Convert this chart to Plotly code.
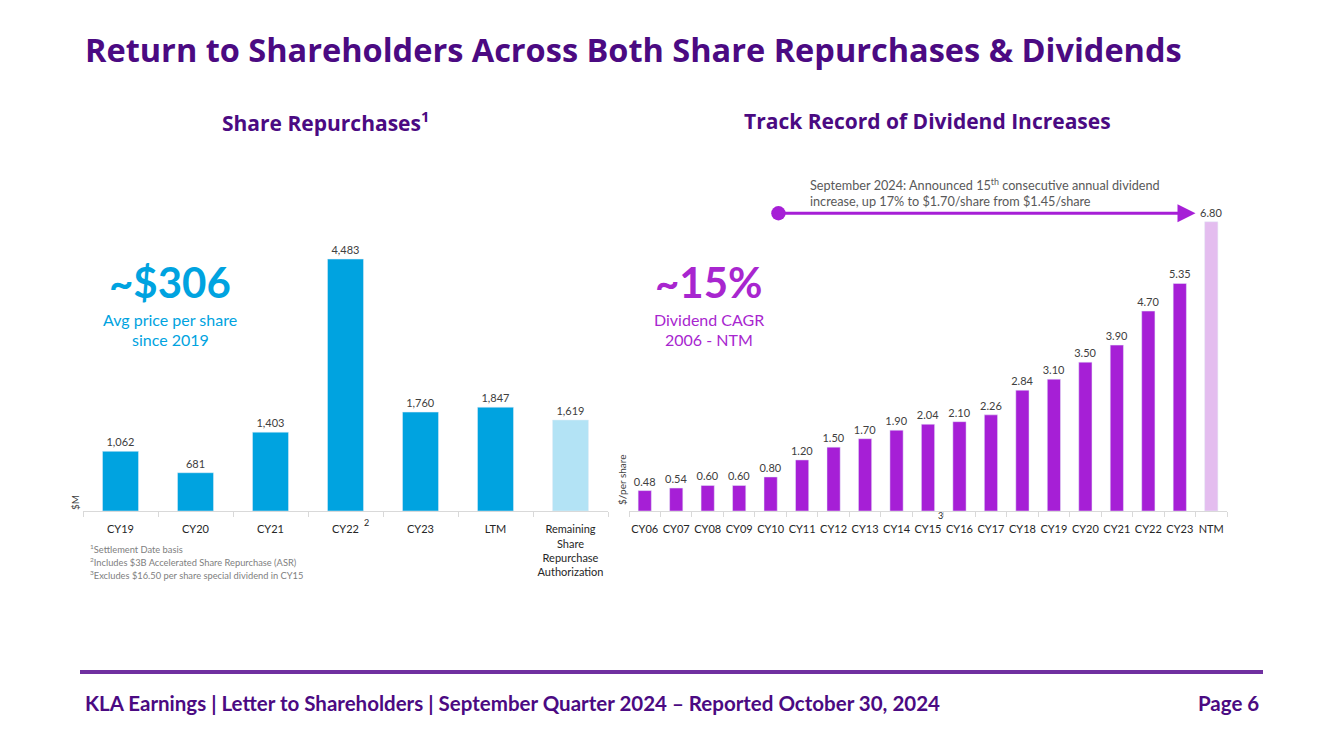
import plotly.graph_objects as go

# Data
rep_cats = ["CY19", "CY20", "CY21", "CY22", "CY23", "LTM", "Remaining<br>Share<br>Repurchase<br>Authorization"]
rep_vals = [1062, 681, 1403, 4483, 1760, 1847, 1619]
div_cats = ["CY06", "CY07", "CY08", "CY09", "CY10", "CY11", "CY12", "CY13", "CY14", "CY15",
            "CY16", "CY17", "CY18", "CY19", "CY20", "CY21", "CY22", "CY23", "NTM"]
div_vals = [0.48, 0.54, 0.60, 0.60, 0.80, 1.20, 1.50, 1.70, 1.90, 2.04,
            2.10, 2.26, 2.84, 3.10, 3.50, 3.90, 4.70, 5.35, 6.80]

OFF = 8  # browser body margin
W, H = 1337 - OFF, 741 - OFF
def px(x): return (x - OFF) / W
def py(y): return 1 - (y - OFF) / H

BLUE = "#00A3E0"
BLUE_L = "#B3E3F5"
PURP = "#A61FD6"
PURP_L = "#E4BDEF"
DARK = "#4B0A82"
FONT = "Lato"

rep_colors = [BLUE] * (len(rep_vals) - 1) + [BLUE_L]
div_colors = [PURP] * (len(div_vals) - 1) + [PURP_L]

fig = go.Figure()
fig.add_trace(go.Bar(x=rep_cats, y=rep_vals, marker_color=rep_colors, xaxis="x", yaxis="y",
                     texttemplate="%{y:,}", textposition="outside", constraintext="none",
                     textfont=dict(size=11, color="#404040", family=FONT), cliponaxis=False,
                     width=0.48, showlegend=False))
fig.add_trace(go.Bar(x=div_cats, y=div_vals, marker_color=div_colors, xaxis="x2", yaxis="y2",
                     texttemplate="%{y:.2f}", textposition="outside", constraintext="none",
                     textfont=dict(size=11, color="#404040", family=FONT), cliponaxis=False,
                     width=0.42, showlegend=False))

axis_common = dict(showgrid=False, zeroline=False, showline=True, linecolor="#D9D9D9", linewidth=1,
                   ticks="outside", tickson="boundaries", ticklen=5, tickcolor="#D9D9D9",
                   tickfont=dict(size=11, color="#262626", family=FONT), fixedrange=True,
                   tickangle=0, type="category", ticklabelstandoff=8)

fig.update_layout(
    width=W, height=H, margin=dict(l=0, r=0, t=0, b=0),
    paper_bgcolor="white", plot_bgcolor="white",
    font=dict(family=FONT),
    xaxis=dict(domain=[px(83), px(608)], anchor="y", **axis_common),
    yaxis=dict(domain=[py(511), py(230)], range=[0, 5000], visible=False, fixedrange=True),
    xaxis2=dict(domain=[px(629), px(1227)], anchor="y2", **axis_common),
    yaxis2=dict(domain=[py(511), py(192)], range=[0, 7.5], visible=False, fixedrange=True),
)

ann = []
def T(x, y, text, size, color, bold=False, xanchor="center", family=FONT, **kw):
    if bold:
        text = "<b>" + text + "</b>"
    ann.append(dict(x=px(x), y=py(y), xref="paper", yref="paper", text=text, showarrow=False,
                    xanchor=xanchor, yanchor="middle", font=dict(size=size, color=color, family=family), **kw))

T(83, 50, "Return to Shareholders Across Both Share Repurchases & Dividends", 32.5, DARK, True, "left", family="Open Sans")
T(325, 121, "Share Repurchases<sup>1</sup>", 21, DARK, True, family="Open Sans")
T(927, 121, "Track Record of Dividend Increases", 21, DARK, True, family="Open Sans")

T(170, 282, "~$306", 42, BLUE, True)
T(170, 319, "Avg price per share", 16, BLUE)
T(170, 340, "since 2019", 16, BLUE)

T(709, 282, "~15%", 42, "#A826CF", True)
T(709, 319, "Dividend CAGR", 16, "#A826CF")
T(709, 340, "2006 - NTM", 16, "#A826CF")

T(75, 503, "$M", 10, "#404040", textangle=-90)
T(622, 480, "$/per share", 10, "#404040", textangle=-90)
T(366, 522, "2", 9, "#262626")
T(940, 515, "3", 9, "#262626")

T(88, 549, "<sup>1</sup>Settlement Date basis", 9.3, "#808080", xanchor="left")
T(88, 562, "<sup>2</sup>Includes $3B Accelerated Share Repurchase (ASR)", 9.3, "#808080", xanchor="left")
T(88, 575, "<sup>3</sup>Excludes $16.50 per share special dividend in CY15", 9.3, "#808080", xanchor="left")

T(808, 184, "September 2024: Announced 15<sup>th</sup> consecutive annual dividend", 12.7, "#595959", xanchor="left")
T(808, 201, "increase, up 17% to $1.70/share from $1.45/share", 12.7, "#595959", xanchor="left")

T(83, 703, "KLA Earnings | Letter to Shareholders | September Quarter 2024 – Reported October 30, 2024", 20.5, DARK, True, "left")
T(1261, 703, "Page 6", 20.5, DARK, True, "right")

# arrow with circular tail
ann.append(dict(x=17.5, y=7.0, xref="x2", yref="y2", ax=4.2, ay=7.0, axref="x2", ayref="y2",
                text="", showarrow=True, arrowhead=2, arrowsize=1.2, arrowwidth=3, arrowcolor=PURP,
                arrowside="end+start", startarrowhead=6, startarrowsize=1.2))

fig.update_layout(annotations=ann)
fig.add_shape(type="line", xref="paper", yref="paper", x0=px(80), x1=px(1263), y0=py(672), y1=py(672),
              line=dict(color="#7030A0", width=4))

fig.write_html("out.html")
